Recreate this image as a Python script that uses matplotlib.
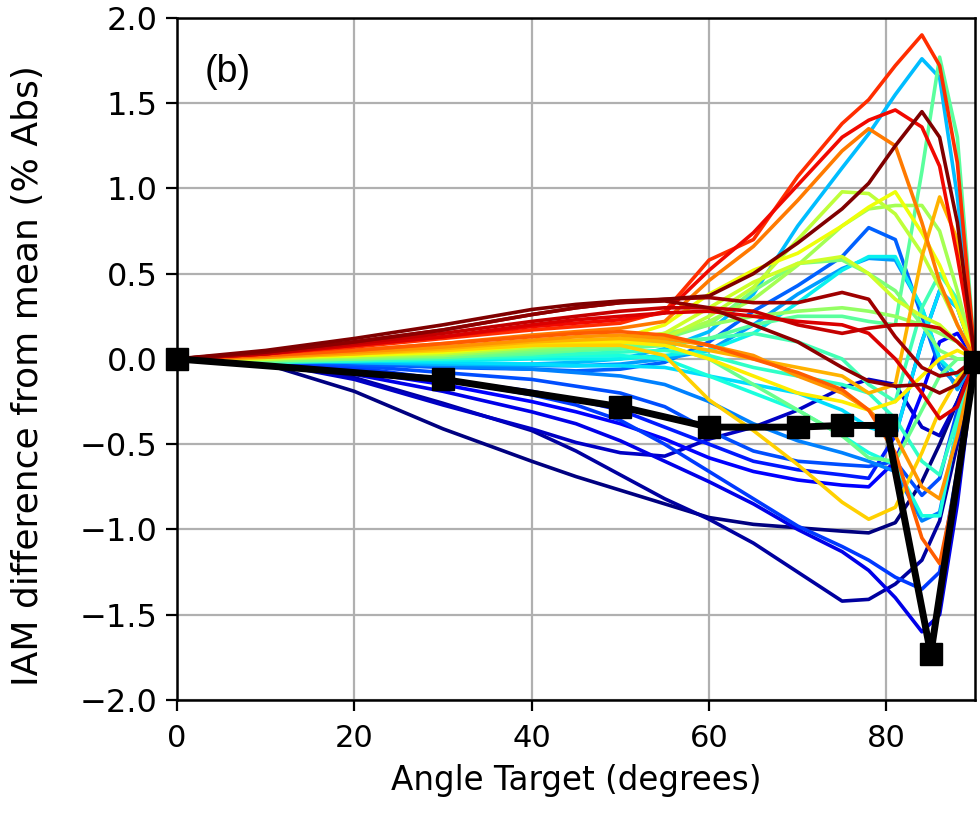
import numpy as np
import matplotlib.pyplot as plt

# angle samples (degrees) shared by all coloured IAM curves
angles = [0, 10, 20, 30, 40, 45, 50, 55, 60, 65, 70, 75, 78, 81, 84, 86, 88, 90]

# IAM difference from mean (% Abs), one list per sample, ordered by jet colour level
c00 = [0, -0.03, -0.19, -0.41, -0.60, -0.69, -0.77, -0.85, -0.93, -0.97, -0.99, -1.01, -1.02, -0.96, -0.72, -0.50, -0.25, 0]
c03 = [0, -0.02, -0.11, -0.26, -0.42, -0.54, -0.68, -0.82, -0.94, -1.08, -1.25, -1.42, -1.41, -1.32, -1.18, -0.95, -0.50, 0]
c06 = [0, -0.02, -0.12, -0.27, -0.41, -0.49, -0.55, -0.57, -0.47, -0.40, -0.30, -0.17, -0.12, -0.15, -0.40, -0.45, -0.25, 0]
c09 = [0, -0.02, -0.09, -0.19, -0.31, -0.38, -0.48, -0.60, -0.72, -0.85, -1.00, -1.13, -1.24, -1.40, -1.60, -1.50, -0.85, 0]
c12 = [0, -0.01, -0.07, -0.15, -0.25, -0.31, -0.38, -0.47, -0.58, -0.66, -0.71, -0.74, -0.75, -0.60, -0.20, 0.10, 0.15, 0]
c15 = [0, -0.01, -0.06, -0.12, -0.19, -0.24, -0.30, -0.40, -0.50, -0.60, -0.65, -0.68, -0.70, -0.45, 0.10, 0.40, 0.30, 0]
c18 = [0, -0.01, -0.05, -0.12, -0.21, -0.27, -0.36, -0.50, -0.66, -0.82, -0.98, -1.10, -1.18, -1.28, -1.35, -1.25, -0.65, 0]
c20 = [0, -0.01, -0.04, -0.08, -0.12, -0.16, -0.20, -0.28, -0.42, -0.54, -0.60, -0.62, -0.63, -0.60, -0.80, -0.70, -0.30, 0]
c22 = [0, -0.01, -0.03, -0.05, -0.06, -0.07, -0.06, -0.02, 0.10, 0.28, 0.43, 0.60, 0.77, 0.70, 0.25, -0.05, -0.15, 0]
c25 = [0, -0.01, -0.02, -0.04, -0.06, -0.08, -0.10, -0.15, -0.25, -0.38, -0.48, -0.55, -0.60, -0.66, -0.95, -0.90, -0.40, 0]
c28 = [0, -0.01, -0.02, -0.03, -0.04, -0.04, -0.03, 0.00, 0.05, 0.20, 0.38, 0.53, 0.59, 0.58, 0.30, 0.00, -0.18, 0]
c31 = [0, -0.01, -0.02, -0.03, -0.03, -0.02, 0.00, 0.06, 0.16, 0.38, 0.78, 1.12, 1.32, 1.55, 1.76, 1.65, 0.95, 0]
c34 = [0, -0.01, -0.01, -0.02, -0.03, -0.04, -0.04, -0.05, -0.10, -0.15, -0.20, -0.30, -0.40, -0.45, 0.10, 0.40, 0.30, 0]
c36 = [0, -0.01, -0.01, -0.01, 0.00, 0.00, 0.00, 0.02, 0.05, 0.15, 0.33, 0.52, 0.60, 0.60, 0.30, 0.00, -0.10, 0]
c38 = [0, -0.02, -0.01, 0.00, 0.01, 0.02, 0.02, 0.00, -0.10, -0.20, -0.30, -0.45, -0.55, -0.62, -0.92, -0.92, -0.40, 0]
c41 = [0, -0.02, -0.01, 0.00, 0.02, 0.03, 0.04, 0.05, 0.02, -0.05, -0.10, -0.15, -0.20, -0.35, -0.60, -0.68, -0.35, 0]
c43 = [0, -0.02, 0.00, 0.01, 0.03, 0.05, 0.06, 0.10, 0.12, 0.15, 0.10, 0.00, -0.15, -0.25, 0.30, 0.50, 0.35, 0]
c46 = [0, -0.01, 0.00, 0.01, 0.03, 0.05, 0.06, 0.08, 0.12, 0.20, 0.25, 0.25, 0.22, 0.20, 1.10, 1.77, 1.30, 0]
c48 = [0, -0.01, 0.00, 0.01, 0.04, 0.05, 0.07, 0.08, 0.00, -0.15, -0.30, -0.45, -0.58, -0.60, -0.30, -0.10, 0.00, 0]
c50 = [0, -0.01, 0.00, 0.02, 0.05, 0.06, 0.08, 0.12, 0.20, 0.40, 0.56, 0.58, 0.50, 0.40, 0.20, 0.05, 0.00, 0]
c53 = [0, 0.00, 0.01, 0.02, 0.06, 0.08, 0.10, 0.15, 0.20, 0.25, 0.28, 0.30, 0.28, 0.25, 0.20, 0.15, 0.10, 0]
c55 = [0, 0.00, 0.01, 0.03, 0.07, 0.08, 0.10, 0.13, 0.22, 0.35, 0.55, 0.78, 0.88, 0.90, 0.90, 0.75, 0.40, 0]
c58 = [0, 0.00, 0.02, 0.03, 0.07, 0.09, 0.10, 0.12, 0.25, 0.42, 0.70, 0.98, 0.97, 0.85, 0.62, 0.42, 0.20, 0]
c60 = [0, 0.00, 0.02, 0.04, 0.08, 0.09, 0.11, 0.15, 0.30, 0.45, 0.56, 0.60, 0.50, 0.35, 0.25, 0.20, 0.10, 0]
c64 = [0, 0.01, 0.02, 0.04, 0.08, 0.10, 0.12, 0.20, 0.38, 0.52, 0.62, 0.78, 0.89, 0.98, 0.74, 0.55, 0.30, 0]
c66 = [0, 0.01, 0.03, 0.05, 0.08, 0.09, 0.10, 0.08, 0.00, -0.10, -0.20, -0.25, -0.30, -0.25, -0.10, 0.00, 0.05, 0]
c69 = [0, 0.01, 0.03, 0.05, 0.08, 0.08, 0.08, 0.02, -0.24, -0.42, -0.62, -0.84, -0.94, -0.87, -0.55, -0.30, -0.12, 0]
c72 = [0, 0.01, 0.03, 0.06, 0.10, 0.11, 0.12, 0.10, 0.05, 0.00, -0.05, -0.10, -0.20, -0.15, 0.60, 0.95, 0.70, 0]
c75 = [0, 0.01, 0.04, 0.07, 0.11, 0.13, 0.14, 0.12, 0.08, 0.02, -0.10, -0.20, -0.30, -0.45, -0.75, -0.82, -0.45, 0]
c78 = [0, 0.02, 0.05, 0.09, 0.14, 0.16, 0.18, 0.22, 0.46, 0.66, 0.93, 1.22, 1.35, 1.25, 0.80, 0.45, 0.20, 0]
c81 = [0, 0.02, 0.05, 0.09, 0.13, 0.15, 0.16, 0.14, 0.08, 0.00, -0.08, -0.18, -0.30, -0.55, -1.05, -1.20, -0.70, 0]
c86 = [0, 0.03, 0.07, 0.12, 0.17, 0.19, 0.21, 0.28, 0.58, 0.70, 1.07, 1.38, 1.52, 1.72, 1.90, 1.72, 1.15, 0]
c90 = [0, 0.03, 0.08, 0.13, 0.19, 0.21, 0.23, 0.27, 0.52, 0.74, 1.02, 1.30, 1.40, 1.46, 1.36, 1.13, 0.60, 0]
c92 = [0, 0.03, 0.08, 0.13, 0.20, 0.23, 0.25, 0.27, 0.28, 0.25, 0.22, 0.20, 0.15, 0.00, -0.20, -0.35, -0.28, 0]
c94 = [0, 0.03, 0.09, 0.15, 0.22, 0.25, 0.28, 0.30, 0.30, 0.28, 0.20, 0.15, 0.18, 0.20, 0.20, 0.18, 0.10, 0]
c97 = [0, 0.04, 0.10, 0.17, 0.26, 0.30, 0.33, 0.35, 0.36, 0.33, 0.33, 0.39, 0.35, 0.13, -0.05, -0.10, -0.08, 0]
c98 = [0, 0.04, 0.10, 0.17, 0.26, 0.30, 0.33, 0.34, 0.30, 0.20, 0.10, -0.05, -0.13, -0.16, -0.15, -0.20, -0.15, 0]
c100 = [0, 0.05, 0.12, 0.20, 0.29, 0.32, 0.34, 0.35, 0.37, 0.50, 0.68, 0.88, 1.03, 1.25, 1.45, 1.30, 0.80, 0]

colour_levels = [0.00, 0.03, 0.06, 0.09, 0.12, 0.15, 0.18, 0.20, 0.22, 0.25, 0.28, 0.31,
                 0.34, 0.36, 0.38, 0.41, 0.43, 0.46, 0.48, 0.50, 0.53, 0.55, 0.58, 0.60,
                 0.64, 0.66, 0.69, 0.72, 0.75, 0.78, 0.81, 0.86, 0.90, 0.92, 0.94, 0.97,
                 0.985, 1.00]

# black "target" series with square markers
target_angles = [0, 30, 50, 60, 70, 75, 80, 85, 90]
target_values = [0.0, -0.12, -0.28, -0.40, -0.40, -0.39, -0.39, -1.73, -0.02]

curves = [c00, c03, c06, c09, c12, c15, c18, c20, c22, c25, c28, c31, c34, c36, c38,
          c41, c43, c46, c48, c50, c53, c55, c58, c60, c64, c66, c69, c72, c75, c78,
          c81, c86, c90, c92, c94, c97, c98, c100]


def main():
    fig = plt.figure(figsize=(9.8, 8.13), dpi=100)
    ax = fig.add_axes([0.1806, 0.139, 0.8144, 0.839])

    for level, vals in zip(colour_levels, curves):
        ax.plot(angles, vals, color=plt.cm.jet(level), lw=2.6, zorder=2)

    ax.plot(target_angles, target_values, color='black', lw=5, marker='s',
            markersize=16.5, zorder=5, clip_on=False)

    ax.set_xlim(0, 90)
    ax.set_ylim(-2.0, 2.0)
    ax.set_xticks([0, 20, 40, 60, 80])
    yt = np.arange(-2.0, 2.01, 0.5)
    ax.set_yticks(yt)
    ax.set_yticklabels([f'{v:.1f}'.replace('-', '\u2212') for v in yt])
    ax.grid(True, color='#b0b0b0', lw=1.6, zorder=0)
    ax.set_axisbelow(True)

    ax.tick_params(axis='both', which='major', length=8, width=1.6, direction='out')
    ax.tick_params(axis='x', labelsize=22, pad=9)
    ax.tick_params(axis='y', labelsize=23, pad=6)
    for sp in ax.spines.values():
        sp.set_linewidth(1.8)

    ax.set_xlabel('Angle Target (degrees)', fontsize=23.5, labelpad=8)
    ax.set_ylabel('IAM difference from mean (% Abs)', fontsize=26, labelpad=12)
    ax.yaxis.set_label_coords(-0.165, 0.475)
    ax.text(0.035, 0.92, '(b)', transform=ax.transAxes, fontsize=27,
            family=['Liberation Sans', 'DejaVu Sans'], ha='left', va='center')

    fig.savefig('out.png', dpi=100)


if __name__ == "__main__":
    main()
